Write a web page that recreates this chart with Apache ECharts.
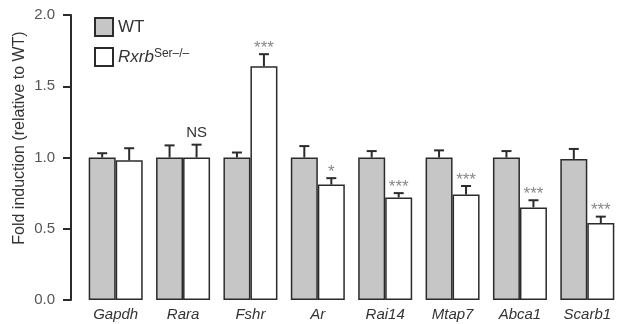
<!DOCTYPE html>
<html><head><meta charset="utf-8">
<script src="https://cdn.jsdelivr.net/npm/echarts@6/dist/echarts.min.js"></script>
<style>html,body{margin:0;padding:0;background:#fff}#c{width:621px;height:324px}</style>
</head><body><div id="c"></div>
<script>
var categories = ['Gapdh','Rara','Fshr','Ar','Rai14','Mtap7','Abca1','Scarb1'];
var wtValues = [1.0, 1.0, 1.0, 1.0, 1.0, 1.0, 1.0, 0.99];
var wtErrTop = [1.03, 1.085, 1.035, 1.08, 1.045, 1.05, 1.045, 1.06];
var koValues = [0.98, 1.0, 1.64, 0.81, 0.72, 0.74, 0.65, 0.54];
var koErrTop = [1.065, 1.09, 1.725, 0.855, 0.75, 0.80, 0.70, 0.585];
var sigLabels = ['', 'NS', '***', '*', '***', '***', '***', '***'];
var yTicks = [0, 0.5, 1.0, 1.5, 2.0];
var yAxisTitle = 'Fold induction (relative to WT)';

var BW = 27;
var FONT = 'Liberation Sans, Arial, sans-serif';
var chart = echarts.init(document.getElementById('c'), null, {renderer:'canvas'});

function errItem(side, errs, vals){
  return function(params, api){
    var i = api.value(0);
    var base = api.coord([i, vals[i]]);
    var top = api.coord([i, errs[i]]);
    var x = base[0] + side * BW / 2;
    var s = {stroke:'#2b2b2b', lineWidth:2};
    return {type:'group', children:[
      {type:'line', shape:{x1:x, y1:base[1], x2:x, y2:top[1]}, style:s},
      {type:'line', shape:{x1:x-5, y1:top[1], x2:x+5, y2:top[1]}, style:s}
    ]};
  };
}

var idx = categories.map(function(c,i){return [i, koErrTop[i]];});

chart.setOption({
  animation:false,
  grid:{left:82, top:15, width:546, height:285, containLabel:false},
  graphic:[{type:'text', x:20, y:138, rotation:Math.PI/2,
    style:{text:yAxisTitle, textAlign:'center', textVerticalAlign:'middle',
      fontSize:16, fill:'#333', fontFamily:FONT}}],
  legend:{
    orient:'vertical', left:89, top:12, itemWidth:18, itemHeight:18, itemGap:10,
    icon:'rect', data:['WT','KO'],
    textStyle:{fontFamily:FONT, fontSize:17, color:'#333',
      rich:{i:{fontStyle:'italic', fontSize:17, color:'#333', fontFamily:FONT},
            s:{fontSize:12, color:'#333', fontFamily:FONT, padding:[0,0,7,0]}}},
    formatter:function(n){ return n==='WT' ? 'WT' : '{i|Rxrb}{s|Ser–/–}'; }
  },
  xAxis:{type:'category', data:categories,
    axisLine:{show:false}, axisTick:{show:false},
    axisLabel:{fontStyle:'italic', fontSize:15, color:'#333', margin:7, fontFamily:FONT}},
  yAxis:{type:'value', min:0, max:2, interval:0.5, offset:11,
    axisLine:{show:true, lineStyle:{color:'#2b2b2b', width:2}},
    axisTick:{show:true, length:8, lineStyle:{color:'#2b2b2b', width:2}},
    splitLine:{show:false},
    axisLabel:{fontSize:15, color:'#555', margin:16, fontFamily:FONT,
      formatter:function(v){return v.toFixed(1);}}
  },
  series:[
    {name:'WT', type:'bar', data:wtValues, barWidth:BW, barGap:'0%',
      itemStyle:{color:'#c6c6c6', borderColor:'#2b2b2b', borderWidth:1.5}},
    {name:'KO', type:'bar', data:koValues, barWidth:BW, barGap:'0%',
      itemStyle:{color:'#ffffff', borderColor:'#2b2b2b', borderWidth:1.5}},
    {type:'custom', data:idx, renderItem:errItem(-1, wtErrTop, wtValues), z:5},
    {type:'custom', data:idx, renderItem:errItem(1, koErrTop, koValues), z:5},
    {type:'custom', data:idx, z:6, renderItem:function(params, api){
      var i = api.value(0);
      var p = api.coord([i, koErrTop[i]]);
      var lab = sigLabels[i];
      var ns = lab === 'NS';
      return {type:'text', x:p[0] + BW/2, y:p[1] - (ns ? 12 : 6),
        style:{text:lab, textAlign:'center', textVerticalAlign:'middle',
          fontSize: ns ? 15 : 17, fontFamily:FONT,
          fill: ns ? '#333' : '#888'}};
    }}
  ]
});
</script></body></html>
